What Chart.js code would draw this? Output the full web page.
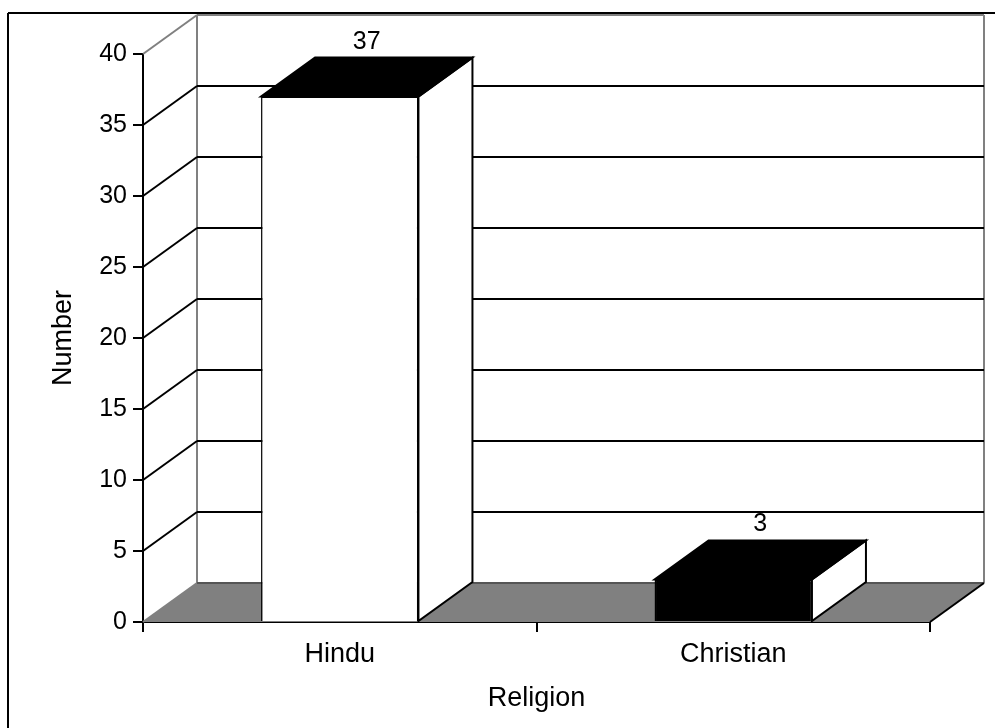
<!DOCTYPE html>
<html>
<head>
<meta charset="utf-8">
<script src="https://cdn.jsdelivr.net/npm/chart.js@4"></script>
<style>
  html, body { margin: 0; padding: 0; background: #ffffff; }
  #wrap { width: 995px; height: 728px; position: relative; }
</style>
</head>
<body>
<div id="wrap"><canvas id="c" width="995" height="728"></canvas></div>
<script>
// Respondents by religion
const categories = ['Hindu', 'Christian'];
const counts = [37, 3];
const faceColors = ['#ffffff', '#000000'];
const yMin = 0;
const yMax = 40;
const yStep = 5;
const xTitle = 'Religion';
const yTitle = 'Number';

// depth of the 3-D box (pixels right / up)
const DX = 54;
const DY = 39;
const GREY = '#808080';
const FONT = "'Liberation Sans', Arial, Helvetica, sans-serif";
const NUM_SIZE = 25;
const WORD_SIZE = 27;

function poly(ctx, pts) {
  ctx.beginPath();
  ctx.moveTo(pts[0][0], pts[0][1]);
  for (let i = 1; i < pts.length; i++) ctx.lineTo(pts[i][0], pts[i][1]);
  ctx.closePath();
}
function line(ctx, x1, y1, x2, y2, color, w) {
  ctx.beginPath();
  ctx.strokeStyle = color;
  ctx.lineWidth = w;
  ctx.moveTo(x1, y1);
  ctx.lineTo(x2, y2);
  ctx.stroke();
}

const depthPlugin = {
  id: 'depth',
  beforeDraw(chart) {
    const ctx = chart.ctx;
    ctx.save();
    ctx.fillStyle = '#ffffff';
    ctx.fillRect(0, 0, chart.width, chart.height);
    // outer frame
    line(ctx, 8, 13, chart.width + 2, 13, '#000', 2);
    line(ctx, 8, 13, 8, chart.height + 2, '#000', 2);
    ctx.restore();
  },
  beforeDatasetsDraw(chart) {
    const { ctx, chartArea: a, scales: { y } } = chart;
    ctx.save();
    // floor
    poly(ctx, [[a.left, a.bottom], [a.right, a.bottom], [a.right + DX, a.bottom - DY], [a.left + DX, a.bottom - DY]]);
    ctx.fillStyle = GREY;
    ctx.fill();
    // back wall edges
    const topBack = y.getPixelForValue(yMax) - DY;
    const botBack = y.getPixelForValue(yMin) - DY;
    line(ctx, a.left + DX, topBack, a.left + DX, botBack, GREY, 2);
    line(ctx, a.right + DX, topBack, a.right + DX, botBack, GREY, 2);
    // gridlines on the side wall and the back wall
    for (let v = yMin; v <= yMax; v += yStep) {
      const py = y.getPixelForValue(v);
      const col = v === yMax ? GREY : (v === yMin ? '#555555' : '#000000');
      line(ctx, a.left, py, a.left + DX, py - DY, v === yMin ? GREY : col, 2);
      line(ctx, a.left + DX, py - DY, a.right + DX, py - DY, col, 2);
    }
    // right edge of the floor
    line(ctx, a.right, a.bottom, a.right + DX, a.bottom - DY, '#000', 2);
    ctx.restore();
  },
  afterDatasetsDraw(chart) {
    const ctx = chart.ctx;
    const meta = chart.getDatasetMeta(0);
    ctx.save();
    ctx.lineJoin = 'miter';
    meta.data.forEach((bar, i) => {
      const { x, y: top, base, width } = bar.getProps(['x', 'y', 'base', 'width'], true);
      const L = x - width / 2;
      const R = x + width / 2;
      // side face
      poly(ctx, [[R, top], [R + DX, top - DY], [R + DX, base - DY], [R, base]]);
      ctx.fillStyle = '#ffffff';
      ctx.fill();
      ctx.strokeStyle = '#000';
      ctx.lineWidth = 2;
      ctx.stroke();
      // top face
      poly(ctx, [[L, top], [R, top], [R + DX, top - DY], [L + DX, top - DY]]);
      ctx.fillStyle = '#000000';
      ctx.fill();
      ctx.stroke();
      // value label
      ctx.fillStyle = '#000';
      ctx.font = NUM_SIZE + 'px ' + FONT;
      ctx.textAlign = 'center';
      ctx.textBaseline = 'alphabetic';
      ctx.fillText(String(counts[i]), (L + R + DX) / 2, top - DY - 9);
    });
    ctx.restore();
  }
};

const numFont = { family: FONT, size: NUM_SIZE };
const wordFont = { family: FONT, size: WORD_SIZE };

new Chart(document.getElementById('c'), {
  type: 'bar',
  data: {
    labels: categories,
    datasets: [{
      data: counts,
      backgroundColor: faceColors,
      borderColor: '#000000',
      borderWidth: 1.5,
      barPercentage: 0.4,
      categoryPercentage: 1.0
    }]
  },
  options: {
    responsive: false,
    animation: false,
    events: [],
    layout: { padding: { top: 54, right: 65, left: 0, bottom: 0 } },
    plugins: { legend: { display: false }, tooltip: { enabled: false } },
    scales: {
      x: {
        z: 1,
        offset: true,
        grid: { display: true, drawOnChartArea: false, drawTicks: true, tickLength: 10, color: '#000', lineWidth: 2, offset: true },
        border: { display: true, color: '#000', width: 2 },
        ticks: { font: wordFont, color: '#000', padding: 6 },
        title: { display: true, text: xTitle, font: wordFont, color: '#000', padding: { top: 0, bottom: 13 } },
        afterFit(s) { s.height = 106; }
      },
      y: {
        z: 1,
        min: yMin,
        max: yMax,
        grid: { display: true, drawOnChartArea: false, drawTicks: true, tickLength: 10, color: '#000', lineWidth: 2 },
        border: { display: true, color: '#000', width: 2 },
        ticks: { stepSize: yStep, font: numFont, color: '#000', padding: 6 },
        title: { display: true, text: yTitle, font: wordFont, color: '#000', padding: { top: 47, bottom: 0 } },
        afterFit(s) { s.width = 143; }
      }
    }
  },
  plugins: [depthPlugin]
});
</script>
</body>
</html>
